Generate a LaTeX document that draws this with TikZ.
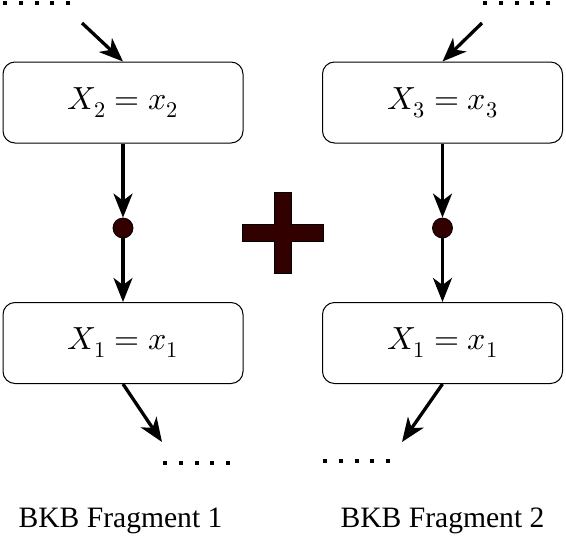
\documentclass[tikz,border=0pt]{standalone}
\usepackage{fontspec}
\usepackage{unicode-math}
\setmathfont{Latin Modern Math}
\newfontfamily\capfont{Liberation Serif}
\usetikzlibrary{arrows.meta}
\definecolor{darkred}{HTML}{330000}
\begin{document}
\begin{tikzpicture}[x=1pt,y=-1pt,
  valbox/.style={draw=black,line width=1pt,rounded corners=12pt,minimum width=240pt,minimum height=81pt,inner sep=0pt,font=\fontsize{32}{38}\selectfont},
  evdot/.style={circle,draw=black,line width=0.8pt,fill=darkred,minimum size=20pt,inner sep=0pt},
  conn/.style={line width=3.3pt,-{Stealth[length=24pt,width=19pt,inset=7pt]}},
  sq/.style={fill=black},
  caption/.style={font=\capfont\fontsize{29.6}{34}\selectfont,anchor=base,inner sep=0pt}]
\useasboundingbox (0,0) rectangle (566,544);
% boxes
\node[valbox] (b2) at (123,102.5) {$X_2 = x_2$};
\node[valbox] (b3) at (442.5,102.5) {$X_3 = x_3$};
\node[valbox] (b1l) at (123,343) {$X_1 = x_1$};
\node[valbox] (b1r) at (442.5,343) {$X_1 = x_1$};
% dots
\node[evdot] (d1) at (123,228) {};
\node[evdot] (d2) at (442.5,228) {};
% dotted rows
\foreach \x in {0,...,4} {
  \fill[sq] ({5+15.8*\x-2},1) rectangle ++(4,4);
  \fill[sq] ({485+15.8*\x-2},1) rectangle ++(4,4);
  \fill[sq] ({165+15.8*\x-2},461) rectangle ++(4,4);
  \fill[sq] ({325+15.8*\x-2},459) rectangle ++(4,4);
}
% free ends
\coordinate (s2) at (82,23);
\coordinate (s3) at (482,23);
\coordinate (e1) at (162,442);
\coordinate (e2) at (402,442);
% connectors
\draw[conn] (s2) -- (b2.north);
\draw[conn] (s3) -- (b3.north);
\draw[conn] (b2.south) -- (d1.north);
\draw[conn] (d1.south) -- (b1l.north);
\draw[conn] (b3.south) -- (d2.north);
\draw[conn] (d2.south) -- (b1r.north);
\draw[conn] (b1l.south) -- (e1);
\draw[conn] (b1r.south) -- (e2);
% plus sign
\draw[line width=0.8pt,fill=darkred] (274,192) -- (291,192) -- (291,224) -- (323,224) -- (323,241) -- (291,241) -- (291,273) -- (274,273) -- (274,241) -- (242,241) -- (242,224) -- (274,224) -- cycle;
% captions
\node[caption] (c1) at (120.5,527) {BKB Fragment 1};
\node[caption] (c2) at (442.5,527) {BKB Fragment 2};
\end{tikzpicture}
\end{document}
